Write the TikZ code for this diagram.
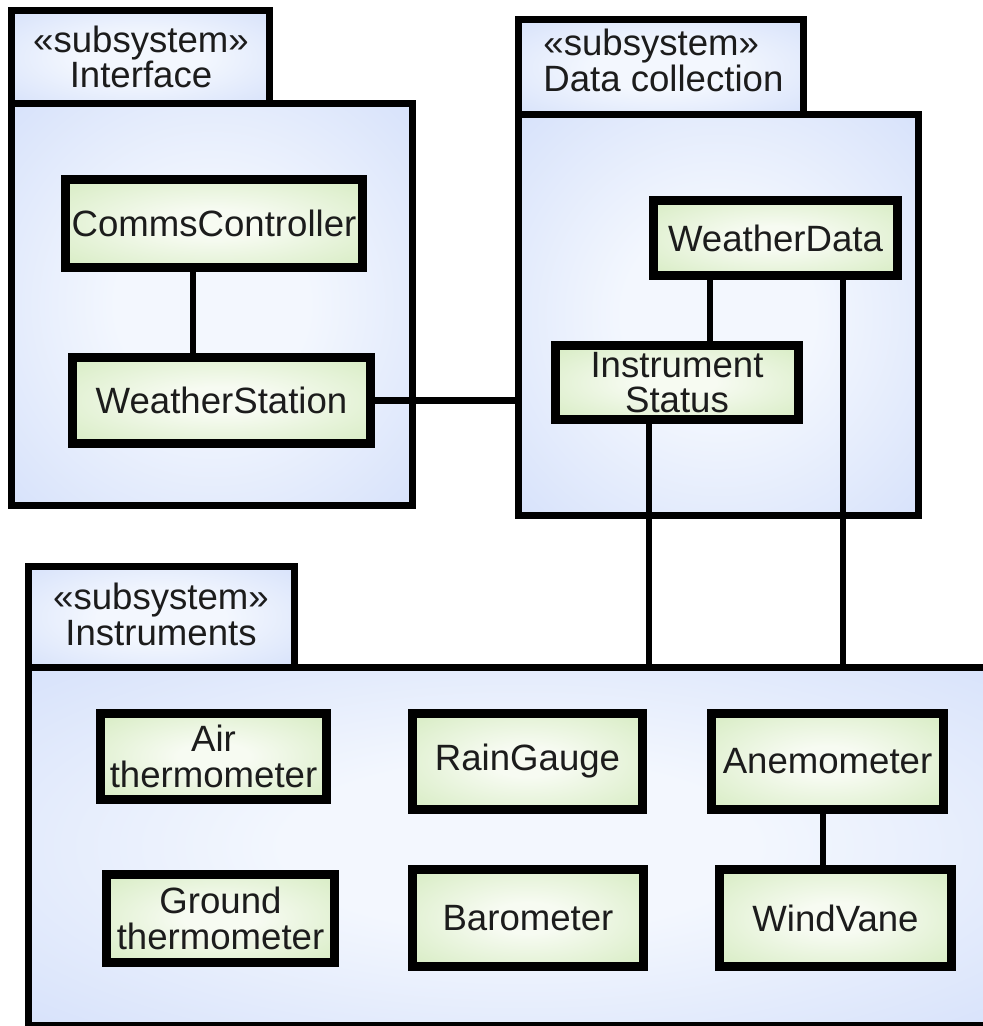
\documentclass[tikz,border=0pt]{standalone}
\usepackage{fontspec}
\setmainfont{Liberation Sans}

% one drawing unit = one pixel of the layout grid
\newcommand{\PX}{0.5pt}

\definecolor{pkgedge}{RGB}{198,213,248}
\definecolor{pkgmid}{RGB}{243,247,254}
\definecolor{clsedge}{RGB}{198,228,170}
\definecolor{clsmid}{RGB}{247,251,242}
\definecolor{inkc}{RGB}{28,28,28}

% soft glow fills for packages and classes
\pgfdeclareradialshading{pkgglow}{\pgfpoint{0bp}{0bp}}{color(0bp)=(pkgmid); color(12bp)=(pkgmid); color(50bp)=(pkgedge); color(72bp)=(pkgedge)}
\pgfdeclareradialshading{clsglow}{\pgfpoint{0bp}{0bp}}{color(0bp)=(clsmid); color(8bp)=(clsmid); color(50bp)=(clsedge); color(72bp)=(clsedge)}

\begin{document}
\begin{tikzpicture}[x=0.5pt,y=-0.5pt,
  every node/.style={font=\fontsize{18.3}{17.8}\selectfont, text=inkc},
  pkg/.style={draw=black, line width=3.5pt, shade, shading=pkgglow, inner sep=0pt},
  cls/.style={draw=black, line width=4.3pt, shade, shading=clsglow, inner sep=0pt, align=center},
  wire/.style={draw=black, line width=3.25pt},
  lbl/.style={inner sep=0pt}]

\useasboundingbox (0,0) rectangle (983,1026);
\clip (0,0) rectangle (983,1026);
\fill[white] (0,0) rectangle (983,1026);

% ---- subsystem Interface ----
\node[pkg, minimum width=258*\PX, minimum height=92.5*\PX] (ifacetab) at (140.5,57.25) {};
\node[pkg, minimum width=401*\PX, minimum height=401.5*\PX] (iface) at (212,304.25) {};
\node[lbl, align=center] (ifacelbl) at (141,57) {«subsystem»\\Interface};

% ---- subsystem Data collection ----
\node[pkg, minimum width=285*\PX, minimum height=95*\PX] (dctab) at (661,67.5) {};
\node[pkg, minimum width=400*\PX, minimum height=400*\PX] (dc) at (718.5,315) {};
\node[lbl, align=left, anchor=west] (dclbl) at (543,60.5) {«subsystem»\\Data collection};

% ---- subsystem Instruments (runs off the right edge) ----
\node[pkg, minimum width=266*\PX, minimum height=100.5*\PX] (insttab) at (161.5,616.75) {};
\node[pkg, minimum width=981.5*\PX, minimum height=358*\PX] (inst) at (519.25,846) {};
\node[lbl, align=center] (instlbl) at (161,614.5) {«subsystem»\\Instruments};

% ---- classes ----
\node[cls, minimum width=297*\PX, minimum height=88*\PX] (cc) at (214,223.5) {CommsController};
\node[cls, minimum width=298*\PX, minimum height=86*\PX] (ws) at (221.5,400.5) {WeatherStation};

\node[cls, minimum width=244*\PX, minimum height=75*\PX] (wd) at (775.5,238) {WeatherData};
\node[cls, minimum width=243*\PX, minimum height=74*\PX] (is) at (677,382.5) {Instrument\\Status};

\node[cls, minimum width=226*\PX, minimum height=86*\PX] (air) at (213.5,756.5) {Air\\thermometer};
\node[cls, minimum width=230*\PX, minimum height=96*\PX] (rain) at (527.5,761.5) {RainGauge};
\node[cls, minimum width=232*\PX, minimum height=96*\PX] (anemo) at (827.5,761.5) {Anemometer};
\node[cls, minimum width=228*\PX, minimum height=88*\PX] (ground) at (220.5,918.5) {Ground\\thermometer};
\node[cls, minimum width=231*\PX, minimum height=97*\PX] (baro) at (528,918) {Barometer};
\node[cls, minimum width=232*\PX, minimum height=97*\PX] (vane) at (835.5,918) {WindVane};

% ---- associations ----
\draw[wire] ([xshift=-21*\PX]cc.south) coordinate (ccfoot) -- (ccfoot |- ws.north);
\draw[wire] (ws.east) -- (ws.east -| dc.west);
\draw[wire] ([xshift=-65.5*\PX]wd.south) coordinate (wdfoot) -- (wdfoot |- is.north);
\draw[wire] ([xshift=-28*\PX]is.south) coordinate (isfoot) -- (isfoot |- inst.north);
\draw[wire] ([xshift=67.5*\PX]wd.south) coordinate (wdright) -- (wdright |- inst.north);
\draw[wire] ([xshift=-4.5*\PX]anemo.south) coordinate (anfoot) -- (anfoot |- vane.north);

\end{tikzpicture}
\end{document}
